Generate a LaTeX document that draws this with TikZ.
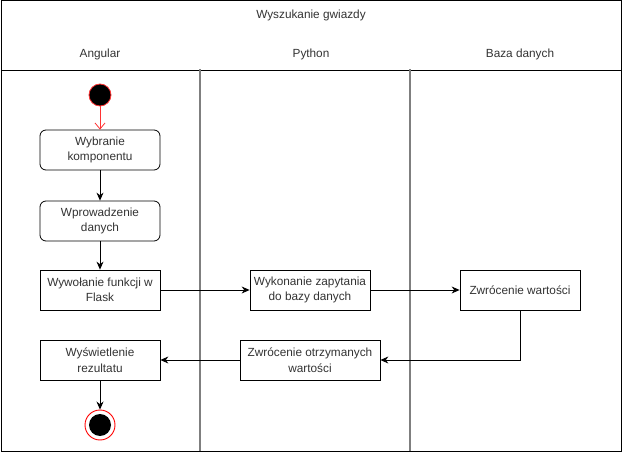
\documentclass[tikz,border=0pt]{standalone}
\usepackage{fontspec}
\setmainfont{Liberation Sans}
\usetikzlibrary{arrows.meta}
\definecolor{txtgray}{HTML}{333333}
\definecolor{lanegray}{HTML}{7F7F7F}
\definecolor{umlred}{HTML}{FF3333}
\tikzset{
  action/.style={draw,line width=0.8pt,rounded corners=6pt,minimum width=120pt,minimum height=40pt,
    align=center,text=txtgray,font=\fontsize{11.8}{15.5}\selectfont,inner sep=2pt},
  task/.style={action,rounded corners=0pt},
  flow/.style={-{Stealth[length=8pt,width=7pt]},line width=0.8pt},
  lanetext/.style={text=txtgray,font=\fontsize{11.8}{15.5}\selectfont},
}
\begin{document}
\begin{tikzpicture}[x=1pt,y=-1pt]
\useasboundingbox (0,0) rectangle (622,452);
% Pool frame and lanes
\draw[line width=1pt] (1,1) rectangle (621,451);
\draw[line width=1pt] (1,71) -- (621,71);
\foreach \x in {200,410} {
  \draw[lanegray,line width=1.3pt] (\x,69) -- (\x,451);
}
\node[lanetext] (title) at (311,15) {Wyszukanie gwiazdy};
\node[lanetext] (angular) at (100,54) {Angular};
\node[lanetext] (python) at (311,54) {Python};
\node[lanetext] (db) at (520,54) {Baza danych};

% Start and end
\node[circle,fill=black,draw=umlred,line width=0.8pt,minimum size=22pt,inner sep=0pt] (start) at (100,95) {};
\node[circle,draw=red,line width=0.9pt,minimum size=30pt,inner sep=0pt] (end) at (100,425) {};
\node[circle,fill=black,minimum size=22pt,inner sep=0pt] (enddot) at (end) {};

% Actions
\node[action] (choose) at (100,150) {Wybranie\\komponentu};
\node[action] (input) at (100,221) {Wprowadzenie\\danych};
\node[task] (call) at (100,290) {Wywołanie funkcji w\\Flask};
\node[task] (display) at (100,360) {Wyświetlenie\\rezultatu};
\node[task] (query) at (310,290) {Wykonanie zapytania\\do bazy danych};
\node[task,minimum width=140pt] (returned) at (310,360) {Zwrócenie otrzymanych\\wartości};
\node[task] (values) at (520,290) {Zwrócenie wartości};

% Flow
\draw[umlred,line width=0.8pt,-{Straight Barb[length=6pt,width=10pt]}] (start) -- (choose);
\draw[flow] (choose) -- (input);
\draw[flow] (input) -- (call);
\draw[flow] (call) -- (query);
\draw[flow] (query) -- (values);
\draw[flow] (values.south) |- (returned.east);
\draw[flow] (returned) -- (display);
\draw[flow] (display) -- (end);
\end{tikzpicture}
\end{document}
